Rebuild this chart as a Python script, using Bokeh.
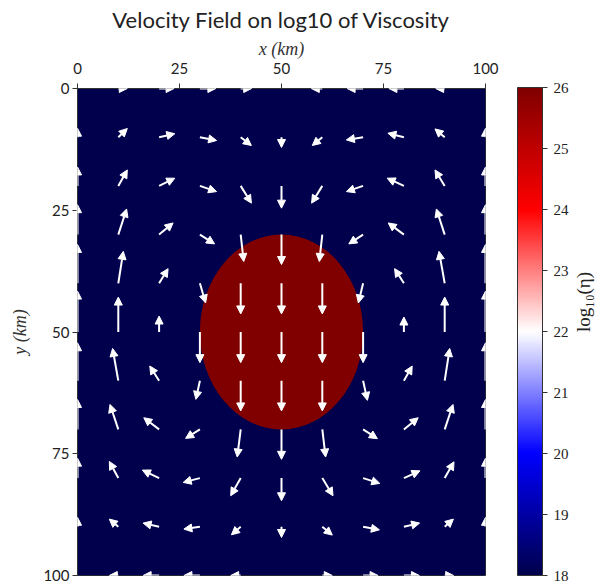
import numpy as np
from bokeh.plotting import figure
from bokeh.models import (ColumnDataSource, LinearColorMapper, ColorBar, Arrow,
                          NormalHead, FixedTicker, LinearAxis, Range1d)
from bokeh.embed import file_html
from bokeh.resources import INLINE

# ---------------- data ----------------
grid_x = [0, 10, 20, 30, 40, 50, 60, 70, 80, 90, 100]   # km
grid_y = [0, 10, 20, 30, 40, 50, 60, 70, 80, 90, 100]   # km (depth, downward)

log_eta_background = 18.0
log_eta_sphere = 26.0
sphere_center_x = 50.0
sphere_center_y = 50.0
sphere_radius = 20.0

# velocity components (arbitrary units); vy > 0 means downward (increasing y)
vx_rows = [
    [0, 0.90, 1.50, 1.60, 1.10, 0, -1.10, -1.60, -1.50, -0.90, 0],
    [0, 0.90, 1.57, 1.67, 1.07, 0, -1.00, -1.67, -1.60, -0.97, 0],
    [0, 0.90, 1.57, 1.67, 1.07, 0, -1.07, -1.67, -1.67, -0.97, 0],
    [0, 0.83, 1.40, 1.47, 0.30, 0, -0.30, -1.43, -1.57, -0.83, 0],
    [0, 0.50, 0.90, 0.57, 0.00, 0, 0.00, -0.47, -0.93, -0.57, 0],
    [0, 0.00, 0.00, 0.00, 0.00, 0, 0.00, 0.00, 0.00, 0.00, 0],
    [0, -0.57, -0.93, -0.40, 0.00, 0, 0.00, 0.43, 0.83, 0.50, 0],
    [0, -0.83, -1.53, -1.43, -0.35, 0, 0.33, 1.43, 1.43, 0.83, 0],
    [0, -0.90, -1.67, -1.67, -1.00, 0, 1.07, 1.67, 1.60, 0.93, 0],
    [0, -0.90, -1.60, -1.60, -0.93, 0, 1.00, 1.63, 1.57, 0.87, 0],
    [0, -0.90, -1.60, -1.60, -1.00, 0, 1.00, 1.50, 1.55, 0.90, 0],
]
vy_rows = [
    [0, 0, 0, 0, 0, 0, 0, 0, 0, 0, 0],
    [-0.90, -0.87, -0.35, 0.33, 0.83, 1.03, 0.83, 0.27, -0.40, -0.83, -0.90],
    [-1.90, -1.60, -0.77, 0.57, 1.73, 2.23, 1.73, 0.57, -0.77, -1.60, -1.90],
    [-3.00, -2.57, -1.17, 0.93, 2.70, 3.00, 2.70, 0.93, -1.17, -2.57, -3.00],
    [-3.90, -3.20, -1.47, 1.97, 3.07, 3.07, 3.07, 1.97, -1.47, -3.20, -3.90],
    [-4.10, -3.50, -1.60, 3.07, 3.07, 3.07, 3.07, 3.07, -1.50, -3.50, -4.10],
    [-3.80, -3.23, -1.47, 1.87, 3.03, 3.03, 3.03, 1.97, -1.47, -3.23, -3.80],
    [-3.00, -2.50, -1.17, 0.90, 2.77, 3.00, 2.77, 0.93, -1.17, -2.50, -3.00],
    [-2.00, -1.67, -0.80, 0.43, 1.77, 2.27, 1.77, 0.53, -0.73, -1.63, -2.00],
    [-0.95, -0.77, -0.37, 0.23, 0.80, 1.07, 0.83, 0.30, -0.37, -0.77, -0.95],
    [0, 0, 0, 0, 0, 0, 0, 0, 0, 0, 0],
]

x_ticks = [0, 25, 50, 75, 100]
y_ticks = [0, 25, 50, 75, 100]
cbar_ticks = [18, 19, 20, 21, 22, 23, 24, 25, 26]
cbar_low, cbar_high = 18, 26

# ---------------- layout constants ----------------
W, H = 610, 587
BL, BR, BT, BB = 77, 125, 87, 12
FRAME_W = W - BL - BR
FRAME_H = H - BT - BB
PX_PER_UNIT = 10.0          # quiver scale: screen pixels per velocity unit

# seismic colormap
def seismic_palette(n=256):
    pos = [0.0, 0.25, 0.5, 0.75, 1.0]
    r = [0.0, 0.0, 1.0, 1.0, 0.5]
    g = [0.0, 0.0, 1.0, 0.0, 0.0]
    b = [0.3, 1.0, 1.0, 0.0, 0.0]
    t = np.linspace(0, 1, n)
    R, G, B = (np.interp(t, pos, c) for c in (r, g, b))
    return ["#%02x%02x%02x" % (int(round(a * 255)), int(round(bb * 255)), int(round(c * 255)))
            for a, bb, c in zip(R, G, B)]

mapper = LinearColorMapper(palette=seismic_palette(), low=cbar_low, high=cbar_high)

p = figure(width=W, height=H, x_range=Range1d(0, 100), y_range=Range1d(100, 0),
           x_axis_location="above", output_backend="svg", toolbar_location=None,
           min_border_left=BL, min_border_right=BR, min_border_top=BT, min_border_bottom=BB,
           title="Velocity Field on log10 of Viscosity")

# viscosity field
bg_src = ColumnDataSource(dict(left=[0], right=[100], top=[0], bottom=[100],
                               val=[log_eta_background]))
p.quad(left="left", right="right", top="top", bottom="bottom", source=bg_src,
       fill_color={"field": "val", "transform": mapper}, line_color=None)
sp_src = ColumnDataSource(dict(x=[sphere_center_x], y=[sphere_center_y],
                               w=[2 * sphere_radius], h=[2 * sphere_radius],
                               val=[log_eta_sphere]))
p.ellipse(x="x", y="y", width="w", height="h", source=sp_src,
          fill_color={"field": "val", "transform": mapper}, line_color=None)

# quiver
x0, y0, x1, y1 = [], [], [], []
for j, yy in enumerate(grid_y):
    for i, xx in enumerate(grid_x):
        u, v = vx_rows[j][i], vy_rows[j][i]
        if u == 0 and v == 0:
            continue
        x0.append(xx)
        y0.append(yy)
        x1.append(xx + u * PX_PER_UNIT * 100.0 / FRAME_W)
        y1.append(yy + v * PX_PER_UNIT * 100.0 / FRAME_H)
arrow_src = ColumnDataSource(dict(x0=x0, y0=y0, x1=x1, y1=y1))
p.add_layout(Arrow(end=NormalHead(size=8, fill_color="white", line_color="white", line_width=1),
                   x_start="x0", y_start="y0", x_end="x1", y_end="y1", source=arrow_src,
                   line_color="white", line_width=2))

# styling
p.grid.visible = False
p.outline_line_color = "#333333"
p.outline_line_width = 1
p.title.align = "center"
p.title.text_font = "Lato"
p.title.text_font_style = "normal"
p.title.text_font_size = "22px"
p.title.text_color = "#222222"
p.title.standoff = 6
p.title.text_line_height = 0.8

for ax, ticks in ((p.xaxis, x_ticks), (p.yaxis, y_ticks)):
    ax.ticker = FixedTicker(ticks=ticks)
    ax.minor_tick_line_color = None
    ax.major_tick_in = 0
    ax.major_tick_out = 5
    ax.major_tick_line_color = "#333333"
    ax.axis_line_color = "#333333"
    ax.major_label_text_font = "Lato"
    ax.major_label_text_font_size = "15px"
    ax.major_label_text_color = "#222222"
    ax.axis_label_text_font = "Liberation Serif"
    ax.axis_label_text_font_style = "italic"
    ax.axis_label_text_font_size = "18px"
    ax.axis_label_text_color = "#333333"
p.xaxis.axis_label = "x (km)"
p.yaxis.axis_label = "y (km)"
p.xaxis.axis_label_standoff = 1
p.xaxis.major_label_standoff = 10
p.yaxis.major_label_standoff = 3
p.yaxis.axis_label_standoff = 10

cb = ColorBar(color_mapper=mapper, ticker=FixedTicker(ticks=cbar_ticks), width=25,
              height=FRAME_H, padding=0, margin=0, location=(FRAME_W + 32, 0),
              major_tick_in=0, major_tick_out=5,
              major_tick_line_color="#333333", bar_line_color="#333333",
              major_label_text_font="Liberation Serif", major_label_text_font_size="15px",
              major_label_text_color="#222222", label_standoff=6,
              background_fill_alpha=0)
p.add_layout(cb, "center")

cb_label_axis = LinearAxis(ticker=FixedTicker(ticks=[]), axis_label="log₁₀(η)",
                           axis_line_color=None, major_tick_line_color=None,
                           minor_tick_line_color=None, axis_label_standoff=98,
                           axis_label_text_font="Liberation Serif",
                           axis_label_text_font_style="normal",
                           axis_label_text_font_size="19px",
                           axis_label_text_color="#222222",
                           axis_label_orientation=np.pi / 2)
p.add_layout(cb_label_axis, "right")

open("out.html", "w").write(file_html(p, INLINE))
